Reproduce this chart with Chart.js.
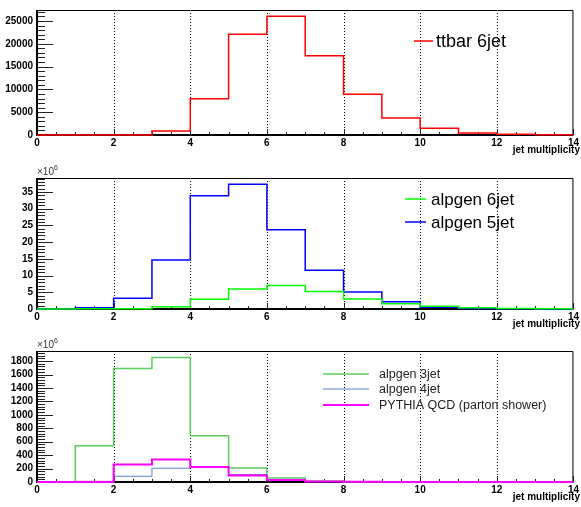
<!DOCTYPE html>
<html>
<head>
<meta charset="utf-8">
<script src="https://cdn.jsdelivr.net/npm/chart.js@4/dist/chart.umd.min.js"></script>
<style>
  html, body { margin: 0; padding: 0; background: #fff; }
  .pad { position: absolute; left: 0; width: 581px; }
</style>
</head>
<body>
<div class="pad" style="top:0;height:160px"><canvas id="c1"></canvas></div>
<div class="pad" style="top:160px;height:175px"><canvas id="c2"></canvas></div>
<div class="pad" style="top:335px;height:172px"><canvas id="c3"></canvas></div>
<script>
// bin edges of the jet multiplicity histograms (0..14, width 1)
const binEdges = [0, 1, 2, 3, 4, 5, 6, 7, 8, 9, 10, 11, 12, 13, 14];
const xTickLabels = [0, 2, 4, 6, 8, 10, 12, 14];

// top pad: ttbar 6jet (events)
const ttbar6jet = [0, 0, 10, 900, 7950, 22100, 26050, 17350, 8950, 3750, 1480, 420, 150, 30];
const yTicksTop = [0, 5000, 10000, 15000, 20000, 25000];

// middle pad (x10^6)
const alpgen6jet = [0, 0.05, 0.1, 0.7, 2.9, 6.0, 7.0, 5.2, 3.0, 1.6, 0.8, 0.35, 0.15, 0.05];
const alpgen5jet = [0, 0.4, 3.2, 14.7, 33.9, 37.3, 23.7, 11.6, 5.1, 2.2, 0.5, 0.15, 0.05, 0.02];
const yTicksMid = [0, 5, 10, 15, 20, 25, 30, 35];

// bottom pad (x10^6)
const alpgen3jet = [0, 540, 1690, 1855, 690, 210, 58, 16, 5, 2, 1, 0, 0, 0];
const alpgen4jet = [0, 10, 85, 205, 225, 112, 38, 8, 3, 1, 0, 0, 0, 0];
const pythiaQCD  = [0, 0, 260, 335, 222, 98, 28, 6, 2, 1, 0, 0, 0, 0];
const yTicksBot = [0, 200, 400, 600, 800, 1000, 1200, 1400, 1600, 1800];

const FONT = "'Liberation Sans', Arial, Helvetica, sans-serif";

// histogram as stepped line: one point per left bin edge, plus the last edge
function steps(vals) {
  return binEdges.map((x, i) => ({ x, y: vals[Math.min(i, vals.length - 1)] }));
}

function hist(label, vals, color, width, order) {
  return { label, data: steps(vals), borderColor: color, borderWidth: width, stepped: 'before',
           pointRadius: 0, fill: false, tension: 0, clip: false, order };
}

// frame, inside ticks and dotted vertical grid, ROOT style
const framePlugin = {
  id: 'histFrame',
  beforeDatasetsDraw(chart, args, opts) {
    const { ctx, chartArea: a, scales: { x, y } } = chart;
    ctx.save();
    ctx.strokeStyle = '#000';
    ctx.lineWidth = 1;
    ctx.setLineDash([1, 2]);
    x.ticks.forEach(t => {
      if (t.value <= x.min || t.value >= x.max) return;
      const px = Math.round(x.getPixelForValue(t.value)) + 0.5;
      ctx.beginPath(); ctx.moveTo(px, a.top); ctx.lineTo(px, a.bottom); ctx.stroke();
    });
    ctx.setLineDash([]);
    ctx.strokeStyle = '#222';
    for (let v = y.min; v <= y.max + 1e-9; v += opts.yMinor) {
      const major = Math.abs(v / opts.yMajor - Math.round(v / opts.yMajor)) < 1e-6;
      const py = Math.round(y.getPixelForValue(v)) + 0.5;
      ctx.beginPath(); ctx.moveTo(a.left, py); ctx.lineTo(a.left + (major ? 16 : 8), py); ctx.stroke();
    }
    for (let v = x.min; v <= x.max + 1e-9; v += 0.5) {
      const major = v % 2 === 0;
      const px = Math.round(x.getPixelForValue(v)) + 0.5;
      ctx.beginPath(); ctx.moveTo(px, a.bottom); ctx.lineTo(px, a.bottom - (major ? 6 : 3)); ctx.stroke();
    }
    ctx.strokeStyle = '#000';
    ctx.lineWidth = 1;
    ctx.beginPath();
    ctx.moveTo(a.left, a.top + 0.5); ctx.lineTo(a.right - 0.5, a.top + 0.5); ctx.lineTo(a.right - 0.5, a.bottom);
    ctx.stroke();
    ctx.lineWidth = 2;
    ctx.beginPath();
    ctx.moveTo(a.left, a.top); ctx.lineTo(a.left, a.bottom); ctx.lineTo(a.right, a.bottom);
    ctx.stroke();
    if (opts.exp) {
      ctx.fillStyle = '#333';
      ctx.textBaseline = 'alphabetic';
      ctx.font = '10px ' + FONT;
      ctx.fillText('\u00d710', a.left, a.top - 3);
      const w = ctx.measureText('\u00d710').width;
      ctx.font = '7px ' + FONT;
      ctx.fillText(String(opts.exp), a.left + w, a.top - 8);
    }
    ctx.fillStyle = '#000';
    ctx.font = 'bold 10px ' + FONT;
    ctx.textAlign = 'right';
    ctx.fillText('jet multiplicity', 580, a.bottom + 18);
    ctx.restore();
  }
};

const legendPlugin = {
  id: 'histLegend',
  afterDatasetsDraw(chart, args, opts) {
    const { ctx } = chart;
    ctx.save();
    ctx.textBaseline = 'middle';
    ctx.font = opts.size + 'px ' + FONT;
    opts.items.forEach((idx, k) => {
      const ds = chart.data.datasets[idx];
      const yy = opts.ys[k];
      ctx.strokeStyle = ds.borderColor;
      ctx.lineWidth = ds.borderWidth;
      ctx.beginPath(); ctx.moveTo(opts.x1, yy); ctx.lineTo(opts.x2, yy); ctx.stroke();
      ctx.fillStyle = opts.color || '#000';
      ctx.fillText(ds.label, opts.tx, yy + 1);
    });
    ctx.restore();
  }
};

function makeChart(id, datasets, cfg) {
  const tickFont = { family: FONT, size: 10, weight: 'bold' };
  return new Chart(document.getElementById(id), {
    type: 'line',
    data: { datasets },
    options: {
      responsive: true, maintainAspectRatio: false, animation: false,
      layout: { padding: { top: cfg.padTop, right: 3, left: 0, bottom: 0 }, autoPadding: false },
      plugins: {
        legend: { display: false }, tooltip: { enabled: false },
        histFrame: { yMajor: cfg.yTicks[1], yMinor: cfg.yMinor, exp: cfg.exp },
        histLegend: cfg.legend
      },
      scales: {
        x: {
          type: 'linear', min: 0, max: 14,
          border: { display: false }, grid: { display: false, drawTicks: false },
          afterBuildTicks: s => { s.ticks = xTickLabels.map(v => ({ value: v })); },
          ticks: { padding: 2, font: tickFont, color: '#000', maxRotation: 0, autoSkip: false, callback: v => String(v) },
          afterFit: s => { s.height = cfg.axisH; }
        },
        y: {
          min: 0, max: cfg.yMax,
          border: { display: false }, grid: { display: false, drawTicks: false },
          afterBuildTicks: s => { s.ticks = cfg.yTicks.map(v => ({ value: v })); },
          ticks: { padding: 4, font: tickFont, color: '#000', autoSkip: false, callback: v => String(v) },
          afterFit: s => { s.width = 37; }
        }
      }
    },
    plugins: [framePlugin, legendPlugin]
  });
}

makeChart('c1', [hist('ttbar 6jet', ttbar6jet, '#ff0000', 1.5, 0)], {
  padTop: 5, axisH: 25, yMax: 27400, yTicks: yTicksTop, yMinor: 1000,
  legend: { items: [0], x1: 414, x2: 433, tx: 436, ys: [41], size: 18 }
});

makeChart('c2', [
  hist('alpgen 6jet', alpgen6jet, '#00ff00', 1.5, 0),
  hist('alpgen 5jet', alpgen5jet, '#0000ff', 1.5, 1)
], {
  padTop: 18, axisH: 26, yMax: 39.2, yTicks: yTicksMid, yMinor: 1, exp: 6,
  legend: { items: [0, 1], x1: 405, x2: 426, tx: 431, ys: [39, 62], size: 17 }
});

makeChart('c3', [
  hist('alpgen 3jet', alpgen3jet, '#5ccc5c', 1.5, 2),
  hist('alpgen 4jet', alpgen4jet, '#5a7fd0', 1, 1),
  hist('PYTHIA QCD (parton shower)', pythiaQCD, '#ff00ff', 2, 0)
], {
  padTop: 16, axisH: 25, yMax: 1950, yTicks: yTicksBot, yMinor: 40, exp: 6,
  legend: { items: [0, 1, 2], x1: 323, x2: 369, tx: 379, ys: [39, 54, 70], size: 12.5, color: '#222' }
});
</script>
</body>
</html>
